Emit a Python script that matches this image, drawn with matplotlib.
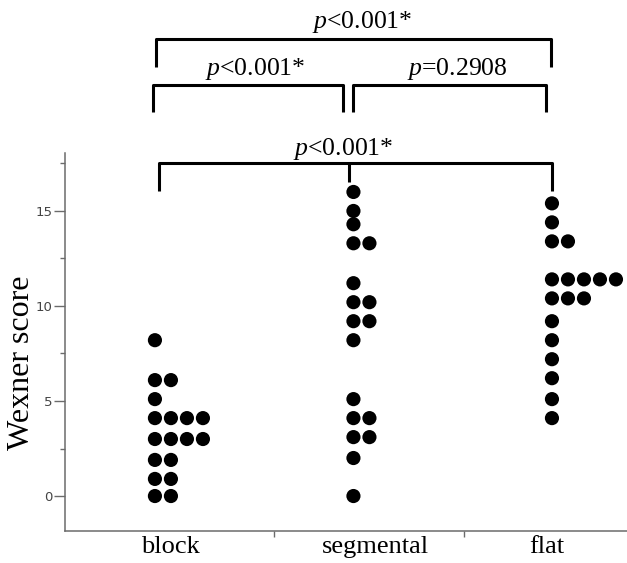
#!/usr/bin/env python3
"""Dot plot of Wexner scores by group with significance brackets."""

import matplotlib
matplotlib.use('Agg')
import matplotlib.pyplot as plt
from collections import Counter

# ── Data ───────────────────────────────────────────────────────────
groups = ['block', 'segmental', 'flat']
block_scores = [8.2, 6.1, 6.1, 5.1, 4.1, 4.1, 4.1, 4.1, 3.0, 3.0, 3.0, 3.0,
                1.9, 1.9, 0.9, 0.9, 0.0, 0.0]
segmental_scores = [16.0, 15.0, 14.3, 13.3, 13.3, 11.2, 10.2, 10.2, 9.2, 9.2,
                    8.2, 5.1, 4.1, 4.1, 3.1, 3.1, 2.0, 0.0]
flat_scores = [15.4, 14.4, 13.4, 13.4, 11.4, 11.4, 11.4, 11.4, 11.4,
               10.4, 10.4, 10.4, 9.2, 8.2, 7.2, 6.2, 5.1, 4.1]
# (left group, right group, p-value text)
comparisons = [
    (0, 2, r'$p$<0.001*'),   # lower bracket
    (0, 1, r'$p$<0.001*'),
    (1, 2, r'$p$=0.2908'),
    (0, 2, r'$p$<0.001*'),   # top bracket
]

SERIF = 'Liberation Serif'
plt.rcParams.update({
    'mathtext.fontset': 'custom',
    'mathtext.it': 'Liberation Serif:italic',
    'mathtext.rm': 'Liberation Serif',
})

fig = plt.figure(figsize=(6.27, 5.63), dpi=100)
ax = fig.add_axes([65 / 627, 32 / 563, 1 - 65 / 627, 378 / 563])

# dots stacked to the right of the group position
dx = 0.0806
for gi, scores in enumerate([block_scores, segmental_scores, flat_scores]):
    seen = Counter()
    xs, ys = [], []
    for s in scores:
        xs.append(gi + dx * seen[s])
        ys.append(s)
        seen[s] += 1
    ax.scatter(xs, ys, s=104, color='black', edgecolors='none', zorder=3,
               clip_on=False)

ax.set_xlim(-0.453, 2.378)
ax.set_ylim(-1.84, 18.05)

# axes styling
for side in ['top', 'right']:
    ax.spines[side].set_visible(False)
for side in ['left', 'bottom']:
    ax.spines[side].set_color('#6b6b6b')
    ax.spines[side].set_linewidth(1.1)

ax.set_yticks([0, 5, 10, 15])
ax.set_yticks([2.5, 7.5, 12.5, 17.5], minor=True)
ax.tick_params(axis='y', which='major', length=8, width=1, color='#6b6b6b',
               labelsize=9.5, labelcolor='#444444', pad=1)
ax.tick_params(axis='y', which='minor', length=3.6, width=1, color='#6b6b6b')
for lbl in ax.get_yticklabels():
    lbl.set_family('DejaVu Sans')

ax.set_xticks([0.08, 1.113, 1.975])
ax.set_xticklabels(groups, fontsize=19, family=SERIF)
ax.set_xticks([0.6, 1.557], minor=True)
ax.tick_params(axis='x', which='major', length=0, pad=3.5)
ax.tick_params(axis='x', which='minor', length=4.3, width=1, color='#6b6b6b')

fig.text(22 / 627, 1 - 363 / 563, 'Wexner score', rotation=90, ha='center',
         va='center', fontsize=23, family=SERIF)


# ── Significance brackets ─────────────────────────────────────────
def bracket(x0, x1, y, leg, text, tx, ty, mid=None):
    kw = dict(color='black', lw=2.2, solid_joinstyle='round',
              solid_capstyle='butt', clip_on=False)
    ax.plot([x0, x0, x1, x1], [leg, y, y, leg], **kw)
    if mid is not None:
        ax.plot([mid[0], mid[0]], [y, mid[1]], **kw)
    ax.text(tx, ty, text, ha='center', va='baseline', fontsize=18.5,
            family=SERIF, clip_on=False)


bracket(0.02, 2.0, 17.53, 16.05, comparisons[0][2], 0.947, 17.95,
        mid=(0.977, 16.53))
bracket(-0.01, 0.947, 21.63, 20.21, comparisons[1][2], 0.504, 22.16)
bracket(1.0, 1.97, 21.63, 20.21, comparisons[2][2], 1.526, 22.16)
bracket(0.005, 1.995, 24.05, 22.58, comparisons[3][2], 1.046, 24.63)

plt.savefig('out.png', dpi=100)
plt.close()
